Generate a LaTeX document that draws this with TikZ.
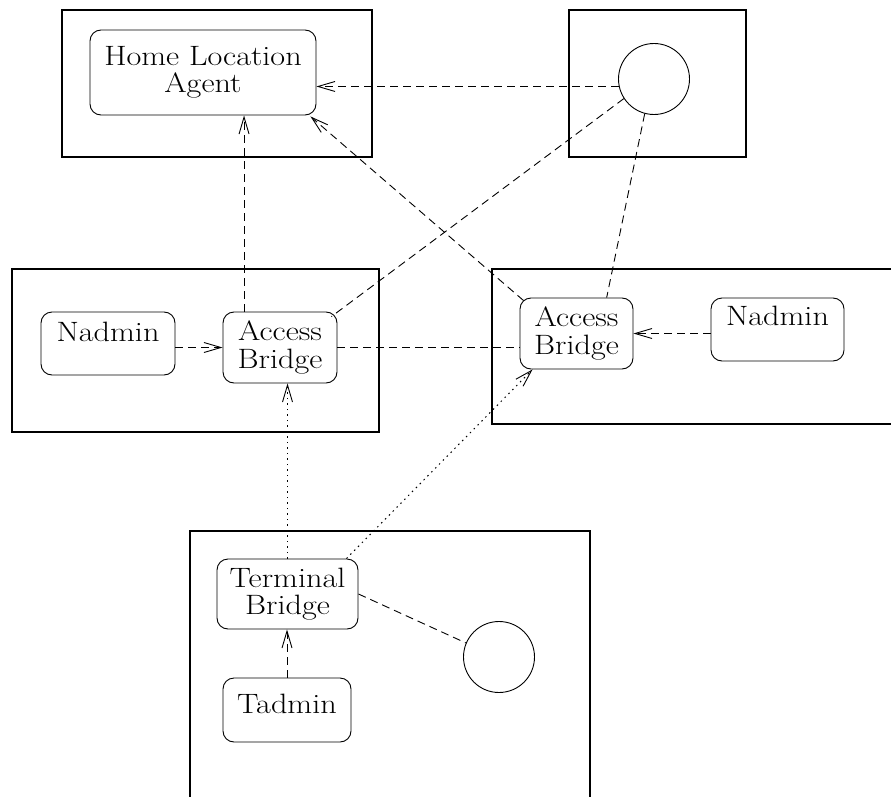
\documentclass[tikz,border=0pt]{standalone}
\usepackage{fontspec}
\newfontfamily\lblfont{Latin Modern Roman}[FakeStretch=1.15]
\usetikzlibrary{arrows.meta,calc}
\begin{document}
\begin{tikzpicture}[x=1pt,y=-1pt,
  framebox/.style={draw, line width=1.1pt, inner sep=0pt},
  rbox/.style={draw, rounded corners=11pt, line width=0.9pt, inner sep=0pt, align=center, font=\lblfont\fontsize{28}{27.5}\selectfont},
  circ/.style={draw, circle, line width=0.9pt, minimum size=71pt, inner sep=0pt},
  dashline/.style={line width=0.9pt, dash pattern=on 8pt off 5pt},
  dotline/.style={line width=1pt, dash pattern=on 1.5pt off 4pt},
  arr/.style={-{Straight Barb[length=17pt,width=10pt,line width=0.9pt]}},
]
\useasboundingbox (0,0) rectangle (891,797);
\clip (0,0) rectangle (891,797);

% outer frames
\node[framebox, minimum width=310, minimum height=147] (f1) at (217,83.5) {};
\node[framebox, minimum width=177, minimum height=147] (f2) at (657.5,83.5) {};
\node[framebox, minimum width=367, minimum height=163] (f3) at (195.5,350.5) {};
\node[framebox, minimum width=420, minimum height=155] (f4) at (702,346.5) {};
\node[framebox, minimum width=400, minimum height=290] (f5) at (390,676) {};

% inner nodes
\node[rbox, minimum width=226, minimum height=85] (hla) at (203,72.5) {Home Location\\Agent};
\node[circ] (c1) at (654,79) {};
\node[rbox, minimum width=134, minimum height=63, text height=19pt, text depth=24pt] (nal) at (108,343.5) {Nadmin};
\node[rbox, minimum width=114, minimum height=71] (abl) at (280,347.5) {Access\\Bridge};
\node[rbox, minimum width=113, minimum height=71] (abr) at (576.5,333.5) {Access\\Bridge};
\node[rbox, minimum width=133, minimum height=63, text height=19pt, text depth=27pt] (nar) at (777.5,329.5) {Nadmin};
\node[rbox, minimum width=141, minimum height=70] (tb) at (287.5,594) {Terminal\\Bridge};
\node[circ] (cb) at (499,657) {};
\node[rbox, minimum width=128, minimum height=64, text height=19pt, text depth=13pt] (ta) at (287,710) {Tadmin};

% connectors
\draw[dashline, arr] (c1.192) -- (c1.192 -| hla.east);
\draw[dashline] (c1.213) -- ($(abl.north east)+(-6,5)$);
\draw[dashline] (c1.255) -- (abr.50);
\draw[dashline, arr] (abl.135) -- (abl.135 |- hla.south);
\draw[dashline, arr] ($(abr.north west)+(4,3)$) -- ($(hla.south east)+(-6,1)$);
\draw[dashline, arr] (nal.east |- abl.west) -- (abl.west);
\draw[dashline] (abl.east) -- (abl.east -| abr.west);
\draw[dashline, arr] (abr.east -| nar.west) -- (abr.east);
\draw[dotline, arr] (tb.north) -- (tb.north |- abl.south);
\draw[dotline, arr] ($(tb.north east)+(-12,0)$) -- ($(abr.south west)+(13,0)$);
\draw[dashline] (tb.east) -- (cb.157);
\draw[dashline, arr] (ta.north) -- (ta.north |- tb.south);
\end{tikzpicture}
\end{document}
